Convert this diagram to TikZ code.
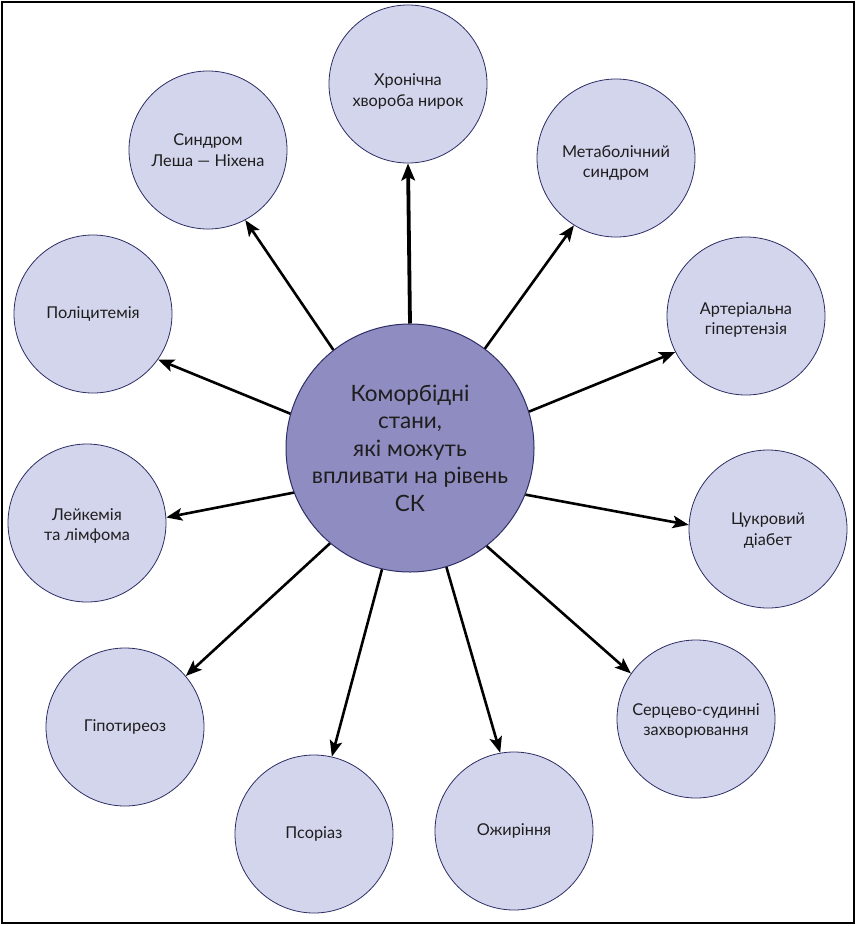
\documentclass[tikz,border=0pt]{standalone}
\usepackage{fontspec}
\setmainfont{Lato}
\usetikzlibrary{arrows.meta}
\definecolor{outerfill}{HTML}{D3D5EC}
\definecolor{centerfill}{HTML}{8E8CC0}
\definecolor{edgecol}{HTML}{2E2E66}
\definecolor{txt}{HTML}{1E1E1E}
\newcommand\txtdown[1]{\rule{0pt}{#1}}
\tikzset{
  outer/.style={circle, draw=edgecol, line width=0.8pt, fill=outerfill, minimum size=158pt, inner sep=0pt, align=center, text=txt, font=\fontsize{16.3}{20.5}\selectfont},
  center/.style={circle, draw=edgecol, line width=1pt, fill=centerfill, minimum size=248pt, inner sep=0pt, align=center, text=txt, font=\fontsize{22.5}{27.5}\selectfont},
  arr/.style={line width=2.6pt, -{Stealth[length=16pt,width=12.5pt,inset=3.5pt]}},
  arrthick/.style={line width=3.8pt, -{Stealth[length=17pt,width=13.5pt,inset=3.5pt]}}
}
\begin{document}
\begin{tikzpicture}[x=1pt,y=-1pt]
\useasboundingbox (0,0) rectangle (856,926);
\draw[line width=2pt] (1.5,1.5) rectangle (853.5,923);
\node[center] (c) at (410,448) {Коморбідні\\стани,\\які можуть\\впливати на рівень\\СК};
\node[outer] (n1) at (408,84) {\txtdown{27pt}Хронічна\\хвороба нирок};
\node[outer] (n2) at (616,158) {\txtdown{22pt}Метаболічний\\синдром};
\node[outer] (n3) at (746,316) {\txtdown{20pt}Артеріальна\\гіпертензія};
\node[outer] (n4) at (768,529) {\txtdown{15pt}Цукровий\\діабет};
\node[outer] (n5) at (696,719) {\txtdown{16pt}Серцево-судинні\\захворювання};
\node[outer] (n6) at (514,831) {Ожиріння};
\node[outer] (n7) at (314,834) {Псоріаз};
\node[outer] (n8) at (125,727) {Гіпотиреоз};
\node[outer] (n9) at (87,523) {\txtdown{18pt}Лейкемія\\та лімфома};
\node[outer] (n10) at (93,314) {Поліцитемія};
\node[outer] (n11) at (208,150) {Синдром\\Леша~--- Ніхена};
\draw[arrthick] (c.90) -- (n1.-90);
\draw[arr] (c.53) -- (n2.-122);
\draw[arr] (c.17) -- (n3.207);
\draw[arr] (c.-22) -- (n4.177);
\draw[arr] (c.-52) -- (n5.145);
\draw[arr] (c.-73) -- (n6.100);
\draw[arr] (c.-103) -- (n7.77);
\draw[arr] (c.-130) -- (n8.40);
\draw[arr] (c.-159) -- (n9.4);
\draw[arr] (c.164) -- (n10.-35);
\draw[arr] (c.128) -- (n11.-62);
\end{tikzpicture}
\end{document}
